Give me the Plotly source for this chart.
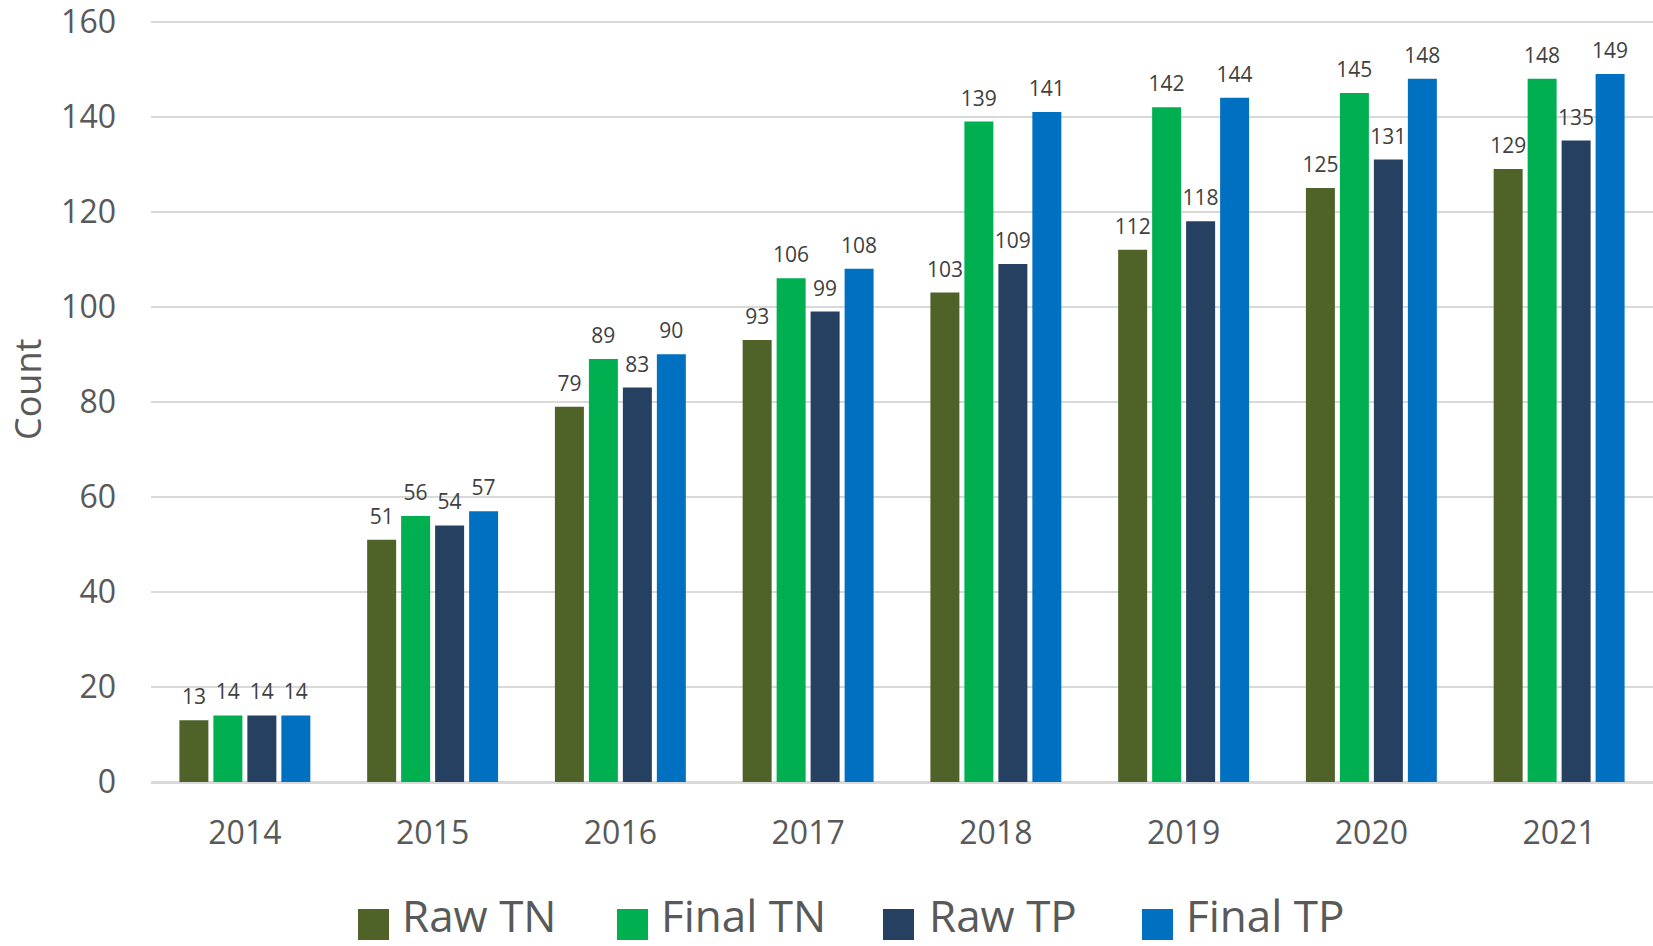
import plotly.graph_objects as go

# Yearly counts per series
years = ["2014", "2015", "2016", "2017", "2018", "2019", "2020", "2021"]
raw_tn = [13, 51, 79, 93, 103, 112, 125, 129]
final_tn = [14, 56, 89, 106, 139, 142, 145, 148]
raw_tp = [14, 54, 83, 99, 109, 118, 131, 135]
final_tp = [14, 57, 90, 108, 141, 144, 148, 149]

series_names = ["Raw TN", "Final TN", "Raw TP", "Final TP"]
series_values = [raw_tn, final_tn, raw_tp, final_tp]
series_colors = ["#4F6228", "#00B050", "#254061", "#0070C0"]

y_ticks = [0, 20, 40, 60, 80, 100, 120, 140, 160]

FONT = "Open Sans"
W, H = 1653, 946
M_L, M_R, M_T, M_B = 151, 0, 17, 164
PLOT_W = W - M_L - M_R
PLOT_H = H - M_T - M_B
BAR_GAP = 0.276


def px_x(px):
    return (px - M_L) / PLOT_W


def px_y(py):
    return (H - M_B - py) / PLOT_H


fig = go.Figure()
for name, vals, color in zip(series_names, series_values, series_colors):
    fig.add_trace(go.Bar(
        x=years, y=vals, name=name,
        marker=dict(color=color, line=dict(width=0)),
        showlegend=False, hoverinfo="skip",
    ))

# Value labels, grouped the same way as the bars and lifted above each bar top
for name, vals in zip(series_names, series_values):
    fig.add_trace(go.Scatter(
        x=years, y=vals, name=name,
        mode="markers+text", text=vals, textposition="top center",
        marker=dict(size=15.6, opacity=0),
        textfont=dict(family=FONT, size=21, color="#404040"),
        cliponaxis=False, showlegend=False,
    ))

# Legend drawn as large swatches with labels beneath the plot
legend_square_x = [358, 617, 883, 1142]
legend_text_x = [404, 663, 931, 1188]
for name, color, sx, tx in zip(series_names, series_colors, legend_square_x, legend_text_x):
    fig.add_shape(type="rect", xref="paper", yref="paper",
                  x0=px_x(sx), x1=px_x(sx + 31), y0=px_y(940), y1=px_y(909),
                  fillcolor=color, line=dict(width=0))
    fig.add_annotation(x=px_x(tx - 3), y=px_y(946), xref="paper", yref="paper",
                       text=name, showarrow=False, xanchor="left", yanchor="bottom",
                       borderpad=0,
                       font=dict(family=FONT, size=44, color="#595959"))

# Vertical axis title
fig.add_annotation(x=px_x(27), y=px_y(390), xref="paper", yref="paper",
                   text="Count", showarrow=False, textangle=-90,
                   xanchor="center", yanchor="middle",
                   font=dict(family=FONT, size=36, color="#595959"))

fig.update_layout(
    width=W, height=H,
    margin=dict(l=M_L, r=M_R, t=M_T, b=M_B),
    paper_bgcolor="white", plot_bgcolor="white",
    barmode="group", bargap=BAR_GAP, bargroupgap=0.147,
    scattermode="group", scattergap=BAR_GAP,
    font=dict(family=FONT, color="#595959"),
    xaxis=dict(
        type="category", showgrid=False, showline=True,
        linecolor="#D9D9D9", linewidth=1.5, ticks="",
        tickfont=dict(family=FONT, size=32, color="#595959"),
        ticklabelstandoff=22,
    ),
    yaxis=dict(
        range=[0, 161], tickvals=y_ticks,
        showgrid=True, gridcolor="#D9D9D9", gridwidth=1.5,
        zeroline=True, zerolinecolor="#D9D9D9", zerolinewidth=1.5,
        showline=False, ticks="",
        tickfont=dict(family=FONT, size=32, color="#595959"),
        ticklabelstandoff=34, ticklabeloverflow="allow",
    ),
)

fig.write_html("out.html")
